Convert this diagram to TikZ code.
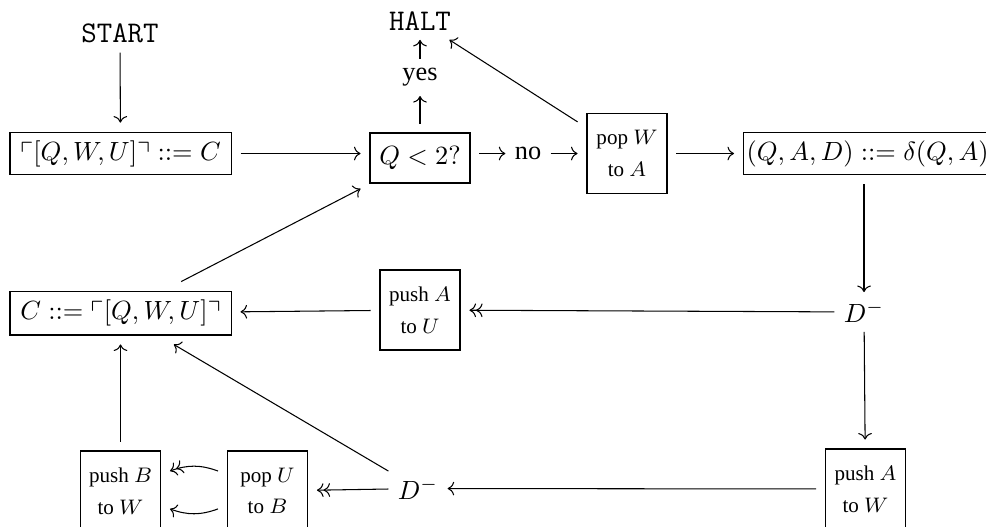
\documentclass[tikz,border=0pt]{standalone}
\usepackage{amssymb}
\usepackage{fontspec}
\newfontfamily\tnr{Liberation Serif}
\usetikzlibrary{arrows.meta}
\tikzset{
  bx/.style={draw, line width=0.4pt, inner sep=3pt, outer sep=3.6pt},
  sbx/.style={draw, line width=0.4pt, inner sep=0pt, outer sep=3.6pt,
    minimum width=30.4pt, minimum height=30.4pt, align=center, font=\footnotesize\tnr},
  lbl/.style={inner sep=0pt, outer sep=3.6pt},
  mono/.style={lbl, font=\fontsize{11.4pt}{13pt}\selectfont\ttfamily},
  ar/.style={line width=0.4pt, -{Computer Modern Rightarrow}},
  artwo/.style={line width=0.4pt, -{Computer Modern Rightarrow[]Computer Modern Rightarrow}},
}
\begin{document}
\begin{tikzpicture}[x=0.38pt,y=-0.38pt]
\useasboundingbox (0,0) rectangle (986,526);
\clip (0,0) rectangle (986,526);
% top row
\node[mono] (start) at (120,33.5) {START};
\node[mono] (halt) at (420,21) {HALT};
\node[lbl, font=\tnr] (yes) at (420,77.5) {yes};
\node[bx, minimum width=84pt, minimum height=16.3pt] (b1) at (120.5,153.5) {$\ulcorner[Q,W,U]\urcorner ::= C$};
\node[bx, minimum width=38pt, minimum height=19pt] (q) at (420,158) {$Q<2?$};
\node[lbl, font=\tnr] (no) at (528,153.5) {no};
\node[sbx] (popW) at (627,153.5) {pop $W$\\[2.5pt]to $A$};
\node[bx, inner xsep=1.2pt, anchor=west, minimum height=16.3pt] (qad) at (734,153.5) {$(Q,A,D) ::= \delta(Q,A)$};
% middle row
\node[lbl] (d1) at (864,312) {$D^-$};
\node[sbx] (pushAU) at (420,310) {push $A$\\[2.5pt]to $U$};
\node[bx, minimum width=84pt, minimum height=16.7pt] (c) at (120.5,313) {$C ::= \ulcorner[Q,W,U]\urcorner$};
% bottom row
\node[lbl] (d2) at (418,488.5) {$D^-$};
\node[sbx] (pushBW) at (120.5,491) {push $B$\\[2.5pt]to $W$};
\node[sbx] (popUB) at (267.5,491) {pop $U$\\[2.5pt]to $B$};
\node[sbx] (pushAW) at (865.5,489) {push $A$\\[2.5pt]to $W$};
% connectors
\draw[ar] (start) -- (b1);
\draw[ar] (b1) -- (b1 -| q.west);
\draw[ar] (q) -- (yes);
\draw[ar] (yes) -- (halt);
\draw[ar] (q.east |- no) -- (no);
\draw[ar] (no) -- (popW);
\draw[ar] (popW) -- (halt);
\draw[ar] (popW) -- (qad.west);
\draw[ar] (qad.south -| d1) -- (d1);
\draw[artwo] (d1) -- (pushAU);
\draw[ar] (pushAU) -- (c);
\draw[ar] (c) -- (q);
\draw[ar] (d1) -- (pushAW);
\draw[ar] (pushAW) -- (d2);
\draw[artwo] (d2) -- (popUB);
\draw[artwo] ([yshift=7.6pt]popUB.west) to[bend right=20] ([yshift=7.6pt]pushBW.east);
\draw[ar] ([yshift=-6.8pt]popUB.west) to[bend left=20] ([yshift=-6.8pt]pushBW.east);
\draw[ar] (d2) -- (c);
\draw[ar] (pushBW) -- (c);
\end{tikzpicture}
\end{document}
